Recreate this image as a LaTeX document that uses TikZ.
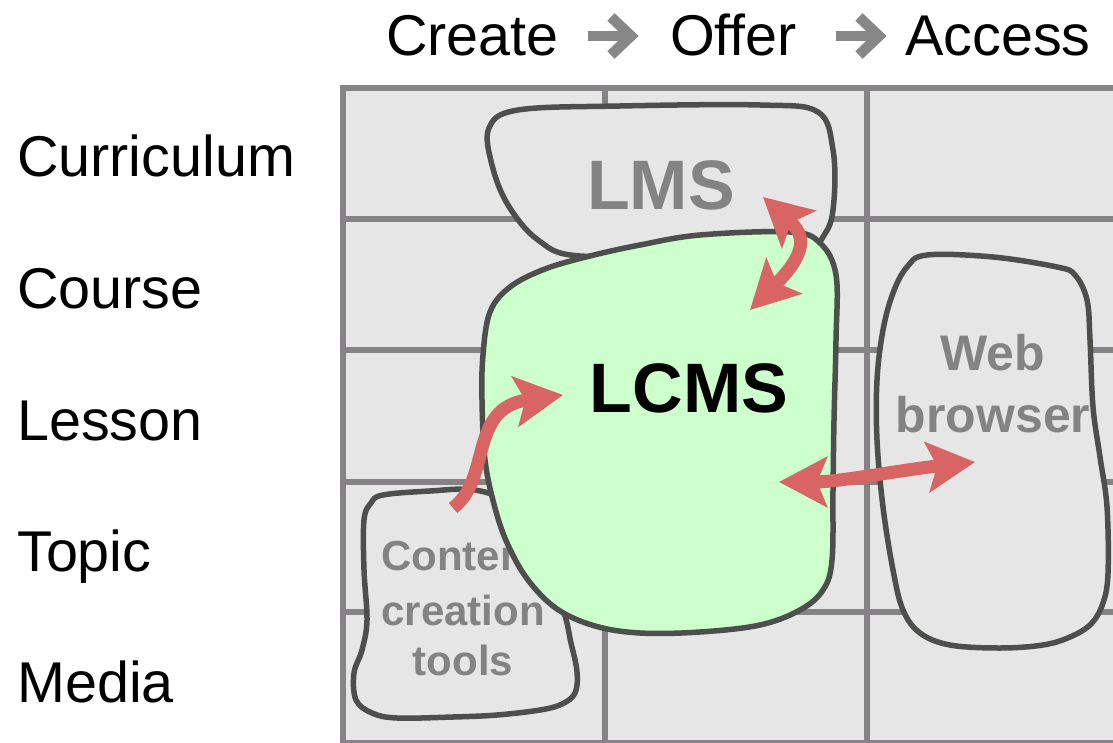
\documentclass[tikz,border=0pt]{standalone}
\usepackage{fontspec}
\setmainfont{Liberation Sans}
\usetikzlibrary{arrows.meta}
\definecolor{gridgray}{HTML}{858385}
\definecolor{cellgray}{HTML}{E6E6E6}
\definecolor{blobline}{HTML}{4D4F4C}
\definecolor{lcmsgreen}{HTML}{CCFFCC}
\definecolor{labelgray}{HTML}{838383}
\definecolor{arrowred}{HTML}{D96464}
\definecolor{hdrgray}{HTML}{878787}
\begin{document}
\begin{tikzpicture}[x=1pt,y=-1pt,
  blob/.style={draw=blobline, line width=5.5pt, line join=round},
  gridline/.style={draw=gridgray, line width=5.5pt, line cap=rect},
  rowlabel/.style={anchor=base west, inner sep=0pt, font={\fontsize{57.5}{68}\selectfont}},
  bigbold/.style={anchor=base, inner sep=0pt, font={\fontsize{70}{84}\selectfont\bfseries}},
  midbold/.style={anchor=base, inner sep=0pt, text=labelgray, font={\fontsize{50}{60}\selectfont\bfseries}},
  smallbold/.style={anchor=base, inner sep=0pt, text=labelgray, font={\fontsize{42}{52}\selectfont\bfseries}},
  redarrow/.style={draw=arrowred, line width=13pt, >={Stealth[length=48pt,width=50pt,inset=10pt]}},
  hdrshaft/.style={draw=hdrgray, line width=10pt},
  hdrchev/.style={draw=hdrgray, line width=10.5pt, line join=miter},
]
\useasboundingbox (0,0) rectangle (1113,743);
\clip (0,0) rectangle (1113,743);
\fill[white] (0,0) rectangle (1113,743);

% header
\node[rowlabel] (create) at (386,56) {Create};
\node[rowlabel] (offer) at (670,56) {Offer};
\node[rowlabel] (access) at (905,56) {Access};
\draw[hdrshaft] (588,36) -- (627,36);
\draw[hdrchev] (611,17) -- (631,36) -- (611,55);
\draw[hdrshaft] (836,36) -- (875,36);
\draw[hdrchev] (859,17) -- (879,36) -- (859,55);

% row labels
\node[rowlabel] (curriculum) at (17,177) {Curriculum};
\node[rowlabel] (course) at (17,308) {Course};
\node[rowlabel] (lesson) at (17,440) {Lesson};
\node[rowlabel] (topic) at (17,571) {Topic};
\node[rowlabel] (media) at (17,702) {Media};

% grid
\fill[cellgray] (343,88) rectangle (1125,760);
\foreach \y in {88,219,350,482,612,743} \draw[gridline] (343,\y) -- (1125,\y);
\foreach \x in {343,605,867} \draw[gridline] (\x,88) -- (\x,760);

% content creation tools
\draw[blob, fill=cellgray] plot[smooth cycle, tension=0.6] coordinates {(383,495) (430,491) (475,490) (505,505) (535,560) (562,608) (571,643) (577,672) (575,693) (562,704) (540,710) (497,715) (453,717) (397,718) (372,713) (356,700) (354,673) (362,650) (367,620) (364,570) (364,520) (371,503)};
\node[smallbold, anchor=base west] (content1) at (381,570) {Content};
\node[smallbold] (content2) at (463,625) {creation};
\node[smallbold] (content3) at (463,675) {tools};

% LMS
\draw[blob, fill=cellgray] plot[smooth cycle, tension=0.6] coordinates {(489,128) (518,110) (620,106) (760,105) (818,112) (833,150) (834,200) (826,232) (800,250) (700,252) (580,256) (538,240) (508,205) (492,165)};
\node[bigbold, text=labelgray] (lms) at (661,210) {LMS};

% LCMS
\draw[blob, fill=lcmsgreen] plot[smooth cycle, tension=0.6] coordinates {(483,355) (490,312) (510,287) (545,269) (590,256) (640,245) (700,235) (790,232) (820,243) (836,275) (836,340) (834,420) (833,490) (832,560) (823,590) (800,610) (760,625) (700,632) (640,633) (595,626) (557,609) (528,580) (508,545) (495,508) (485,460) (482,400)};
\node[bigbold] (lcms) at (689,412) {LCMS};

% Web browser
\draw[blob, fill=cellgray] plot[smooth cycle, tension=0.6] coordinates {(927,255) (993,257) (1057,267) (1075,275) (1087,300) (1090,340) (1093,407) (1100,457) (1107,507) (1108,573) (1103,603) (1091,624) (1070,637) (1043,645) (1000,648) (950,645) (920,633) (903,610) (893,570) (883,507) (877,440) (877,380) (883,330) (893,293) (907,267)};
\node[midbold] (web1) at (993,370) {Web};
\node[midbold] (web2) at (993,432) {browser};

% red arrows
\coordinate (lmsend) at (763,197);
\coordinate (lcmstop) at (750,310);
\coordinate (toolsend) at (453,508);
\coordinate (lcmsleft) at (563,395);
\coordinate (lcmsright) at (779,482);
\coordinate (webend) at (975,462);
\draw[redarrow, <->] (lmsend) .. controls (805,235) and (808,252) .. (lcmstop);
\draw[redarrow, ->] (toolsend) .. controls (492,478) and (468,408) .. (lcmsleft);
\draw[redarrow, <->] (lcmsright) .. controls (840,482) and (900,470) .. (webend);
\end{tikzpicture}
\end{document}
